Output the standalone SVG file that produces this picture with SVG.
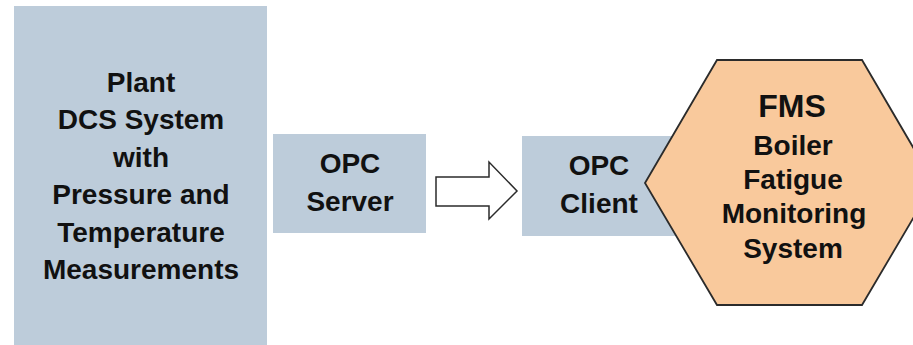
<svg xmlns="http://www.w3.org/2000/svg" width="913" height="345" viewBox="0 0 913 345">
<style>
.box{fill:#bdccda}
.hex{fill:#f9c99c;stroke:#2b2b2b;stroke-width:1.8}
.arrow{fill:#ffffff;stroke:#2b2b2b;stroke-width:1.5}
text{font-family:"Liberation Sans",Arial,sans-serif;font-weight:bold;font-size:28px;fill:#111;text-anchor:middle}
.big{font-size:32px}
</style>
<rect width="913" height="345" fill="#ffffff"/>
<g id="plant-dcs">
<rect class="box" x="14" y="6" width="253" height="339"/>
<text x="141" y="92">Plant</text>
<text x="141" y="129">DCS System</text>
<text x="141" y="167">with</text>
<text x="141" y="204">Pressure and</text>
<text x="141" y="242">Temperature</text>
<text x="141" y="279">Measurements</text>
</g>
<g id="opc-server">
<rect class="box" x="273" y="134" width="153" height="99"/>
<text x="350" y="173">OPC</text>
<text x="350" y="211">Server</text>
</g>
<g id="opc-client">
<rect class="box" x="522" y="136" width="154" height="100"/>
<text x="599" y="175">OPC</text>
<text x="599" y="213">Client</text>
</g>
<g id="fms">
<polygon class="hex" points="645,183 717,60 862,60 934,183 862,305 717,305"/>
<text class="big" x="792" y="117">FMS</text>
<text x="793" y="155">Boiler</text>
<text x="793" y="189">Fatigue</text>
<text x="794" y="223">Monitoring</text>
<text x="793" y="258">System</text>
</g>
<g id="connectors">
<polygon class="arrow" points="436,177 489,177 489,162 517,191 489,219 489,206 436,206"/>
</g>
</svg>
